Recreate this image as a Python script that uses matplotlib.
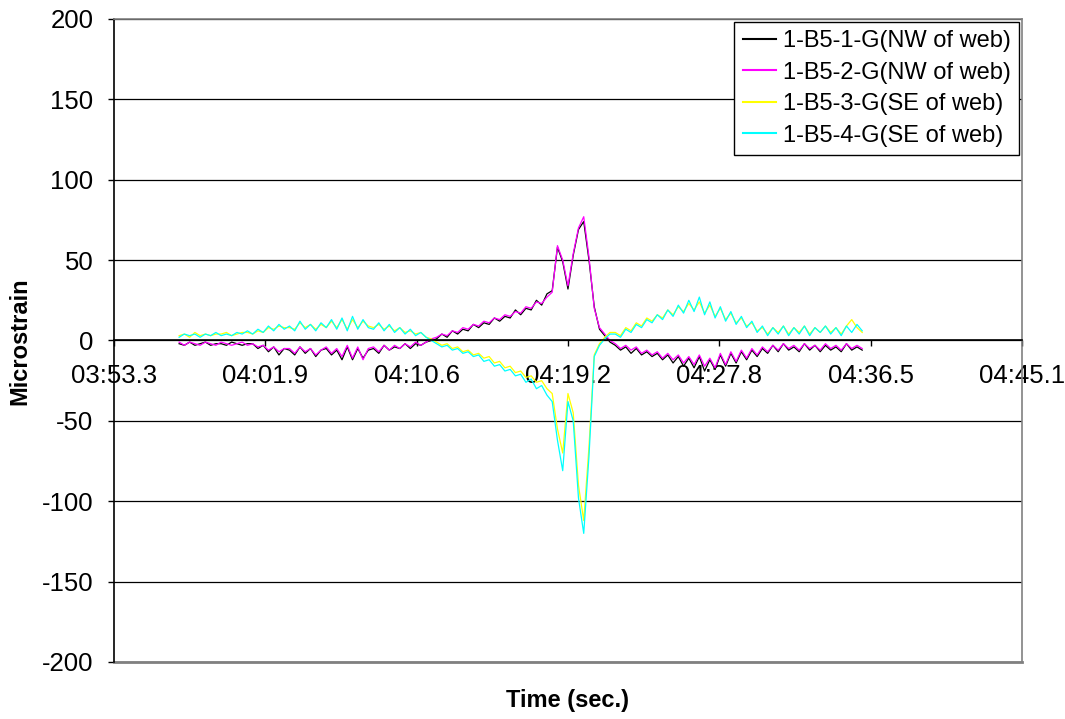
import numpy as np
import matplotlib
matplotlib.use("Agg")
import matplotlib.pyplot as plt
from matplotlib.ticker import FuncFormatter

plt.rcParams['font.family'] = ['Liberation Sans', 'DejaVu Sans']
plt.rcParams['axes.unicode_minus'] = False

# sampling of the gauge records (seconds)
t_start = 237.0
t_step = 0.3

# x axis ticks (seconds), 0.0001 day apart
x_ticks = [233.28, 241.92, 250.56, 259.2, 267.84, 276.48, 285.12]

labels = ["1-B5-1-G(NW of web)", "1-B5-2-G(NW of web)",
          "1-B5-3-G(SE of web)", "1-B5-4-G(SE of web)"]
colors = ["black", "#ff00ff", "#ffff00", "#00ffff"]

g1 = [-2, -3, -1, -3, -2, -1, -3, -2, -2, -3, -1, -2, -3, -2, -2,
      -5, -3, -7, -4, -9, -5,
      -6, -9, -4, -8, -5, -10, -6, -5, -9, -6, -12, -4, -12, -5, -11, -6,
      -5, -8, -3, -6, -4, -5, -2, -5, -2, -3,
      -1, 0,
      1, 4, 2, 6, 4, 7, 6, 10, 8, 11, 10, 14, 12, 15, 14, 19, 16, 20, 19, 25, 22, 29,
      31, 58, 49, 32, 53, 69, 74, 50, 21, 7, 3, -1,
      -3, -6, -4, -8, -5, -9, -7, -10, -8, -12, -9, -14, -10, -16, -11, -17, -10, -19,
      -12, -18, -9, -16, -8, -14, -7, -12, -6, -10,
      -5, -8, -3, -7, -2, -6, -4, -7, -2, -6, -3, -7, -3, -6, -4, -7, -2, -6, -4, -6]

g2 = [-1, -3, -1, -2, -3, -1, -2, -3, -1, -2, -3, -2, -1, -3, -2,
      -4, -3, -6, -4, -7, -5,
      -5, -8, -4, -7, -5, -9, -6, -4, -8, -5, -10, -3, -11, -4, -12, -5,
      -4, -7, -3, -6, -3, -5, -2, -4, -1, -3,
      -1, 1,
      2, 4, 3, 6, 5, 8, 7, 10, 9, 12, 11, 14, 13, 16, 15, 18, 17, 21, 20, 24, 23, 27,
      30, 59, 50, 34, 54, 70, 77, 52, 20, 8, 4, 0,
      -2, -5, -3, -6, -4, -8, -6, -9, -7, -11, -8, -12, -9, -14, -10, -15, -9, -16,
      -11, -17, -8, -15, -7, -13, -6, -11, -5, -9,
      -4, -7, -3, -6, -2, -5, -3, -6, -2, -5, -3, -6, -2, -5, -3, -6, -2, -5, -3, -5]

g3 = [3, 4, 2, 5, 3, 4, 3, 4, 4, 5, 3, 4, 5, 5, 4,
      6, 5, 8, 7, 9, 8,
      8, 7, 11, 8, 10, 7, 10, 8, 12, 8, 13, 7, 13, 8, 12, 9,
      8, 10, 7, 9, 6, 8, 5, 6, 4, 5,
      2, 1,
      -1, -3, -2, -5, -4, -7, -6, -9, -8, -11, -10, -14, -13, -17, -16, -20, -19, -23, -22, -26, -25, -30,
      -33, -55, -70, -33, -45, -90, -112, -66, -9, -2, 2, 5,
      5, 3, 8, 6, 11, 9, 14, 12, 16, 14, 19, 16, 21, 18, 23, 19, 24, 17,
      22, 15, 20, 13, 17, 11, 14, 9, 11, 6,
      8, 4, 8, 5, 9, 4, 8, 5, 9, 4, 8, 5, 9, 5, 8, 4, 9, 13, 8, 5]

g4 = [2, 4, 3, 4, 2, 4, 3, 5, 3, 4, 3, 5, 4, 6, 4,
      7, 5, 9, 6, 10, 7,
      9, 6, 12, 7, 10, 6, 11, 8, 13, 7, 14, 6, 15, 7, 13, 8,
      7, 11, 6, 10, 5, 8, 4, 7, 3, 5,
      2, 0,
      -2, -4, -3, -6, -5, -8, -7, -10, -9, -13, -12, -16, -15, -19, -18, -22, -21, -26, -24, -30, -28, -34,
      -38, -62, -81, -38, -50, -98, -120, -72, -10, -3, 1, 4,
      4, 2, 7, 5, 10, 8, 13, 11, 16, 13, 19, 15, 22, 17, 25, 18, 27, 16,
      24, 14, 21, 12, 18, 10, 15, 8, 12, 5,
      9, 3, 8, 4, 9, 3, 8, 4, 9, 3, 8, 5, 9, 4, 8, 3, 9, 5, 10, 6]

series = [g1, g2, g3, g4]
t = t_start + t_step * np.arange(len(g1))


def mmss(v, pos=None):
    m = int(v // 60)
    s = v - 60 * m
    return "%02d:%04.1f" % (m, s)


fig = plt.figure(figsize=(10.65, 7.19), dpi=100)
ax = fig.add_axes([0.107, 0.0793, 0.8526, 0.8943])

for y, c, lab in zip(series, colors, labels):
    ax.plot(t, y, color=c, lw=0.9, label=lab)

ax.set_xlim(x_ticks[0], x_ticks[-1])
ax.set_ylim(-200, 200)
ax.set_yticks(range(-200, 201, 50))
ax.set_xticks(x_ticks)
ax.xaxis.set_major_formatter(FuncFormatter(mmss))
ax.yaxis.grid(True, color="black", lw=0.9)
ax.set_axisbelow(True)

# x axis crosses at zero, frame in grey
ax.spines['bottom'].set_position(('data', 0))
ax.spines['bottom'].set_color("black")
ax.spines['bottom'].set_linewidth(1.2)
ax.spines['left'].set_color("black")
ax.spines['left'].set_linewidth(1.2)
for s in ['top', 'right']:
    ax.spines[s].set_color("#808080")
    ax.spines[s].set_linewidth(1.2)
ax.plot([0, 1], [0, 0], transform=ax.transAxes, color="#808080", lw=2, clip_on=False)

ax.tick_params(axis='x', direction='out', length=4, width=1, labelsize=18.5, pad=13)
ax.tick_params(axis='y', direction='out', length=4.3, width=1, labelsize=18.5, pad=10.5)

fig.text(0.533, 1 - 700 / 719, "Time (sec.)", ha='center', va='center',
         fontsize=17, fontweight='bold')
fig.text(20 / 1065, 1 - 341 / 719, "Microstrain", ha='center', va='center',
         rotation=90, fontsize=17, fontweight='bold')

leg = ax.legend(loc='upper right', bbox_to_anchor=(1019 / 1065, 1 - 22 / 719),
                bbox_transform=fig.transFigure, fontsize=17, fancybox=False,
                edgecolor='black', framealpha=1, borderaxespad=0,
                handlelength=1.4, handletextpad=0.3, labelspacing=0.4,
                borderpad=0.35)
leg.get_frame().set_linewidth(1)
for h in leg.get_lines():
    h.set_linewidth(1.5)

fig.savefig("out.png", dpi=100)
